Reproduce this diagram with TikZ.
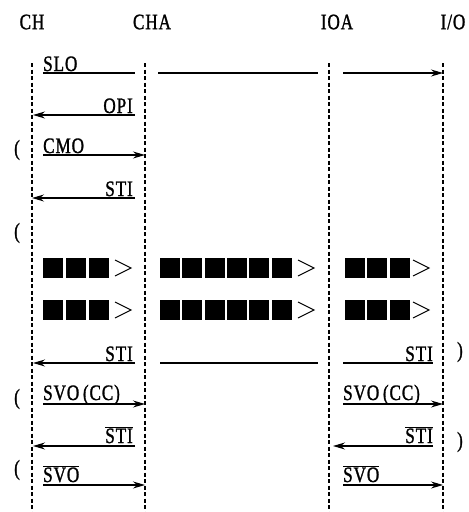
\documentclass[tikz,border=0pt]{standalone}
\usepackage{fontspec}
\setmainfont{Liberation Serif}
\newfontfamily\narrowfont[FakeStretch=0.78,FakeBold=1.2,LetterSpace=4]{Liberation Serif}
\usetikzlibrary{arrows.meta,calc}

\begin{document}
\begin{tikzpicture}[
  x=1pt,y=-1pt,
  lane/.style={dash pattern=on 4pt off 2.5pt,line width=1.3pt},
  msg/.style={line width=1.1pt},
  arr/.style={msg,-{Stealth[length=12pt,width=7pt,inset=4pt]}},
  lbl/.style={font=\narrowfont\fontsize{22}{24}\selectfont,inner sep=0pt},
  blk/.style={fill=black},
  tip/.style={line width=1pt}
]
  \useasboundingbox (0,0) rectangle (469,512);

  % Lanes
  \foreach \n/\x in {ch/32,cha/145,ioa/329,io/443}{
    \coordinate (\n top) at (\x,63);
    \coordinate (\n bot) at (\x,512);
    \draw[lane] (\n top) -- (\n bot);
  }
  \node[lbl] (hch) at (32,22) {CH};
  \node[lbl] (hcha) at (152,22) {CHA};
  \node[lbl] (hioa) at (337,22) {IOA};
  \node[lbl] (hio) at (453,22) {I/O};

  % SLO
  \coordinate (a1) at (43,73);  \coordinate (a2) at (135,73);
  \coordinate (a3) at (158,73); \coordinate (a4) at (318,73);
  \coordinate (a5) at (343,73); \coordinate (a6) at (443,73);
  \draw[msg] (a1) -- (a2);
  \draw[msg] (a3) -- (a4);
  \draw[arr] (a5) -- (a6);
  \node[lbl,anchor=base west] (tslo) at (43,71) {SLO};

  % OPI
  \coordinate (b1) at (135,115); \coordinate (b2) at (33,115);
  \draw[arr] (b1) -- (b2);
  \node[lbl,anchor=base east] (topi) at (133,113) {OPI};

  % CMO
  \coordinate (c1) at (43,155); \coordinate (c2) at (145,155);
  \draw[arr] (c1) -- (c2);
  \node[lbl,anchor=base west] (tcmo) at (43,153) {CMO};
  \node[lbl] (pc) at (17,150) {(};

  % STI
  \coordinate (d1) at (135,198); \coordinate (d2) at (32,198);
  \draw[arr] (d1) -- (d2);
  \node[lbl,anchor=base east] (tsti) at (133,196) {STI};
  \node[lbl] (pd) at (17,233) {(};

  % data blocks
  \foreach \y in {268,310}{
    \foreach \x in {43,66,89,160,182,205,227,249,272,345,367,390}
      \fill[blk] (\x,{\y-10}) rectangle ++(20,20);
    \foreach \x in {115,298,413}
      \draw[tip] (\x,{\y-8}) -- ({\x+16},\y) -- (\x,{\y+8});
  }

  % STI (end)
  \coordinate (e1) at (135,363); \coordinate (e2) at (33,363);
  \coordinate (e3) at (160,363); \coordinate (e4) at (318,363);
  \coordinate (e5) at (343,363); \coordinate (e6) at (433,363);
  \draw[arr] (e1) -- (e2);
  \draw[msg] (e3) -- (e4);
  \draw[msg] (e5) -- (e6);
  \node[lbl,anchor=base east] (tsti2) at (133,361) {STI};
  \node[lbl,anchor=base east] (tsti3) at (433,361) {STI};
  \node[lbl] (pe) at (460,352) {)};

  % SVO(CC)
  \coordinate (f1) at (43,404);  \coordinate (f2) at (145,404);
  \coordinate (f3) at (343,404); \coordinate (f4) at (443,404);
  \draw[arr] (f1) -- (f2);
  \draw[arr] (f3) -- (f4);
  \node[lbl,anchor=base west] (tsvo) at (43,400) {SVO\,(CC)};
  \node[lbl,anchor=base west] (tsvo2) at (343,400) {SVO\,(CC)};
  \node[lbl] (pf) at (17,399) {(};

  % STI bar
  \coordinate (g1) at (135,446); \coordinate (g2) at (33,446);
  \coordinate (g3) at (433,446); \coordinate (g4) at (333,446);
  \draw[arr] (g1) -- (g2);
  \draw[arr] (g3) -- (g4);
  \node[lbl,anchor=base east] (tnsti) at (133,443) {$\overline{\mbox{STI}}$};
  \node[lbl,anchor=base east] (tnsti2) at (433,443) {$\overline{\mbox{STI}}$};
  \node[lbl] (pg) at (460,442) {)};

  % SVO bar
  \coordinate (h1) at (43,485);  \coordinate (h2) at (145,485);
  \coordinate (h3) at (343,485); \coordinate (h4) at (443,485);
  \draw[arr] (h1) -- (h2);
  \draw[arr] (h3) -- (h4);
  \node[lbl,anchor=base west] (tnsvo) at (43,482) {$\overline{\mbox{SVO}}$};
  \node[lbl,anchor=base west] (tnsvo2) at (343,482) {$\overline{\mbox{SVO}}$};
  \node[lbl] (ph) at (17,470) {(};
\end{tikzpicture}
\end{document}
